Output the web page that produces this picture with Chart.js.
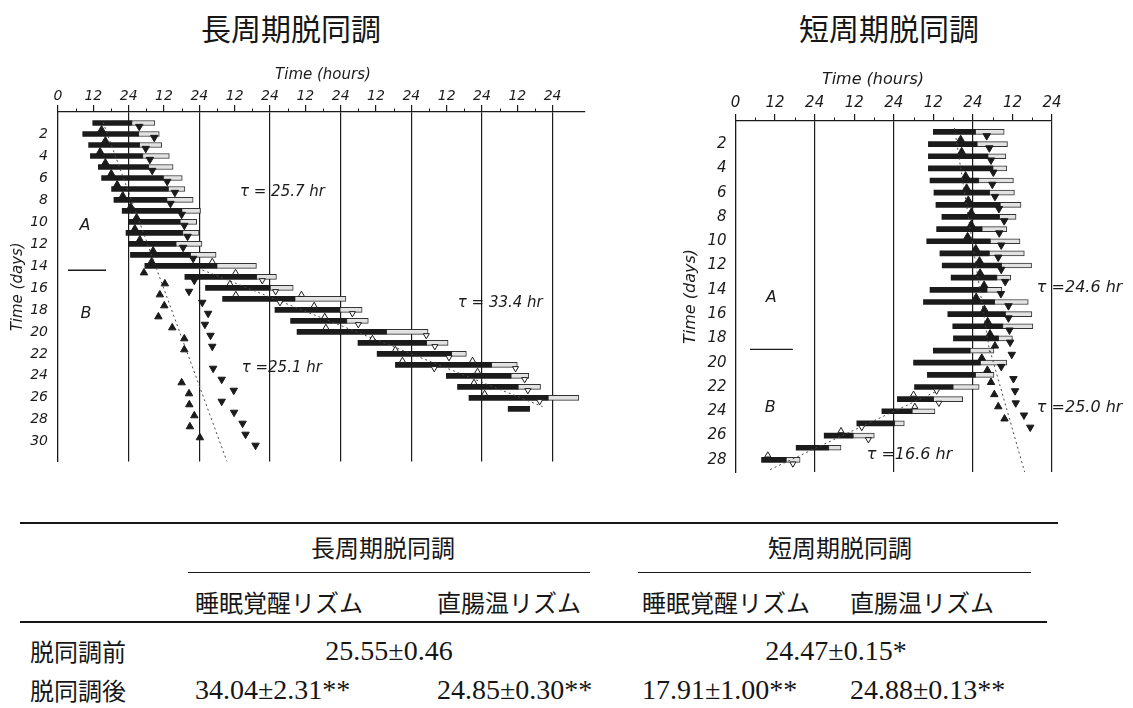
<!DOCTYPE html>
<html lang="ja">
<head>
<meta charset="utf-8">
<title>長周期脱同調・短周期脱同調</title>
<script src="https://cdn.jsdelivr.net/npm/chart.js@4.4.1/dist/chart.umd.min.js"></script>
<style>
  html, body { margin: 0; padding: 0; background: #fff; }
  body { position: relative; width: 1133px; height: 708px; overflow: hidden; color: #161616;
         font-family: "Noto Sans CJK JP", sans-serif; }
  .abs { position: absolute; white-space: nowrap; line-height: 1; }
  .panel-title { font-size: 30px; transform: translate(-50%, -50%); }
  canvas { position: absolute; }
  .rule { position: absolute; background: #161616; }
  .ja { font-size: 24px; transform: translateY(-50%); }
  .ja.mid { transform: translate(-50%, -50%); }
  .num { font-family: "Liberation Serif", serif; font-size: 28px; transform: translateY(-50%); }
  .num.mid { transform: translate(-50%, -50%); }
</style>
</head>
<body>

<div class="abs panel-title" style="left:291px;top:27px">長周期脱同調</div>
<div class="abs panel-title" style="left:889px;top:27px">短周期脱同調</div>

<canvas id="longChart" width="600" height="425" style="left:0;top:55px;width:600px;height:425px"></canvas>
<canvas id="shortChart" width="453" height="430" style="left:680px;top:60px;width:453px;height:430px"></canvas>

<!-- summary table of free-running periods (hours) -->
<div class="rule" style="left:20px;top:522px;width:1038px;height:2px"></div>
<div class="abs ja mid" style="left:383px;top:547px">長周期脱同調</div>
<div class="abs ja mid" style="left:840px;top:547px">短周期脱同調</div>
<div class="rule" style="left:188px;top:572px;width:402px;height:1px"></div>
<div class="rule" style="left:638px;top:572px;width:393px;height:1px"></div>
<div class="abs ja" style="left:195px;top:602px">睡眠覚醒リズム</div>
<div class="abs ja" style="left:437px;top:602px">直腸温リズム</div>
<div class="abs ja" style="left:642px;top:602px">睡眠覚醒リズム</div>
<div class="abs ja" style="left:850px;top:602px">直腸温リズム</div>
<div class="rule" style="left:20px;top:621px;width:1027px;height:1.5px"></div>
<div class="abs ja" style="left:30px;top:651px">脱同調前</div>
<div class="abs num mid" style="left:389px;top:651px">25.55±0.46</div>
<div class="abs num mid" style="left:836px;top:651px">24.47±0.15*</div>
<div class="abs ja" style="left:30px;top:690px">脱同調後</div>
<div class="abs num" style="left:195px;top:690px">34.04±2.31**</div>
<div class="abs num" style="left:437px;top:690px">24.85±0.30**</div>
<div class="abs num" style="left:642px;top:690px">17.91±1.00**</div>
<div class="abs num" style="left:850px;top:690px">24.88±0.13**</div>

<script>
// ---------- long-period desynchronization (left raster) ----------
// per day: activity (black bar) from wakeStart to wakeEnd, rest (open bar) until sleepEnd
const longDays       = [1, 2, 3, 4, 5, 6, 7, 8, 9, 10, 11, 12, 13, 14, 15, 16, 17, 18, 19, 20, 21, 22, 23, 24, 25, 26, 27];
const longWakeStart  = [11.8, 8.4, 10.4, 11.0, 13.7, 14.8, 18.2, 19.0, 21.8, 23.9, 23.1, 23.9, 24.6, 29.5, 43.1, 50.1, 55.9, 73.7, 79.0, 81.2, 101.9, 108.4, 114.6, 131.9, 135.7, 139.6, 152.9];
const longWakeEnd    = [25.0, 27.3, 27.6, 28.7, 30.7, 35.7, 37.4, 36.9, 42.0, 41.4, 42.3, 40.0, 44.9, 53.9, 67.4, 72.0, 80.4, 95.7, 98.0, 111.5, 125.1, 133.6, 147.2, 153.8, 156.2, 166.4, 160.2];
const longSleepEnd   = [32.9, 34.4, 35.2, 37.8, 39.1, 42.2, 43.1, 45.9, 48.4, 47.1, 47.9, 48.9, 53.7, 67.4, 74.2, 79.9, 97.8, 103.3, 105.4, 125.7, 132.5, 138.7, 156.0, 159.9, 163.9, 176.9, null];
// rectal temperature maxima (▲) and minima (▼) as [day, hour]
const longTempMax    = [[2, 14.8], [3, 16.1], [4, 14.3], [5, 16.1], [6, 18.1], [7, 20.1], [8, 22.0], [9, 24.7], [10, 26.7], [11, 26.1], [12, 27.8], [13, 32.3], [14, 31.8], [15, 29.2], [16, 36.3], [17, 34.6], [18, 36.1], [19, 34.1], [20, 38.8], [21, 42.9], [22, 42.9], [25, 42.0], [26, 44.5], [27, 44.6], [28, 46.3], [29, 44.8], [30, 48.2]];
const longTempMin    = [[1, 27.6], [2, 32.7], [3, 29.8], [4, 31.2], [5, 32.0], [6, 37.1], [7, 39.7], [8, 38.2], [9, 42.0], [10, 42.9], [11, 44.0], [12, 42.5], [13, 45.9], [15, 46.3], [16, 44.5], [17, 49.0], [18, 51.0], [19, 49.9], [20, 51.8], [21, 52.4], [23, 52.7], [24, 55.6], [25, 59.7], [26, 55.6], [27, 59.8], [28, 62.7], [29, 63.7], [30, 67.1]];
// open symbols marked on the sleep–wake bars after desynchronization
const longBarMax     = [[14, 52.4], [15, 60.3], [16, 58.4], [17, 60.4], [17, 82.7], [18, 87.0], [19, 90.6], [20, 91.0], [21, 106.8], [22, 114.6], [23, 117.0], [23, 140.8], [24, 142.5], [25, 141.3], [26, 144.9]];
const longBarMin     = [[15, 69.4], [16, 73.9], [17, 75.4], [18, 100.0], [19, 102.0], [20, 125.1], [21, 128.0], [22, 132.8], [23, 127.8], [23, 155.4], [24, 158.5], [25, 159.6], [26, 163.6]];
// fitted period lines as [day, hour] end points
const longTrendTemp  = [[0.93, 15.3], [31.8, 57.4]];
const longTrendSleep = [[14.2, 47.5], [26.8, 164.6]];
const longHourLabels = ['0', '12', '24', '12', '24', '12', '24', '12', '24', '12', '24', '12', '24', '12', '24'];
const longDayLabels  = [2, 4, 6, 8, 10, 12, 14, 16, 18, 20, 22, 24, 26, 28, 30];

// ---------- short-period desynchronization (right raster) ----------
const shortDays      = [1, 2, 3, 4, 5, 6, 7, 8, 9, 10, 11, 12, 13, 14, 15, 16, 17, 18, 19, 20, 21, 22, 23, 24, 25, 26, 27, 28];
const shortWakeStart = [60.0, 58.5, 58.5, 58.5, 59.0, 60.2, 60.8, 62.6, 61.0, 58.0, 62.0, 62.7, 65.4, 59.0, 57.0, 64.4, 65.9, 66.1, 60.0, 54.0, 58.2, 54.3, 49.1, 44.4, 36.8, 26.9, 18.4, 7.9];
const shortWakeEnd   = [72.7, 73.2, 76.5, 78.0, 73.7, 77.0, 80.2, 80.0, 74.7, 77.2, 76.9, 80.6, 79.2, 76.2, 78.5, 81.8, 81.0, 79.7, 71.1, 74.2, 72.7, 65.9, 60.0, 53.5, 48.2, 35.6, 28.2, 15.3];
const shortSleepEnd  = [81.5, 82.5, 82.0, 82.3, 84.3, 84.6, 86.6, 85.1, 82.3, 86.3, 87.6, 89.8, 83.5, 80.8, 88.8, 89.9, 90.2, 84.0, 78.4, 82.3, 78.4, 73.9, 68.9, 60.5, 51.2, 42.1, 32.0, 19.6];
const shortTempMax   = [[2, 68.3], [3, 68.6], [5, 69.8], [6, 70.1], [7, 70.6], [8, 71.5], [9, 71.5], [10, 70.4], [11, 72.9], [12, 74.0], [13, 74.2], [14, 75.4], [15, 73.0], [16, 75.5], [17, 76.5], [18, 77.2], [19, 78.7], [20, 74.7], [21, 76.4], [22, 77.5], [23, 78.5], [24, 79.7], [25, 81.6]];
const shortTempMin   = [[1, 76.2], [2, 77.0], [3, 77.5], [4, 78.2], [5, 77.9], [6, 78.7], [7, 79.9], [8, 81.5], [9, 80.0], [10, 80.6], [11, 79.7], [12, 80.6], [13, 81.8], [14, 80.5], [15, 82.8], [16, 82.8], [17, 83.1], [18, 83.3], [19, 83.8], [20, 80.6], [21, 84.3], [22, 84.8], [23, 85.0], [24, 87.5], [25, 89.4]];
const shortBarMax    = [[23, 54.0], [24, 54.4], [26, 32.0], [28, 9.8]];
const shortBarMin    = [[22, 61.0], [23, 61.7], [25, 38.3], [26, 40.3], [28, 17.4]];
const shortTrendPre  = [[0.68, 66.4], [19.3, 77.2]];
const shortTrendTemp = [[19.0, 77.2], [29.1, 87.8]];
const shortTrendSleep = [[28.8, 10.5], [22.3, 61.4]];
const shortHourLabels = ['0', '12', '24', '12', '24', '12', '24', '12', '24'];
const shortDayLabels  = [2, 4, 6, 8, 10, 12, 14, 16, 18, 20, 22, 24, 26, 28];

// ---------- drawing ----------
const INK = '#1b1b1b';
const CLEAR = 'rgba(0,0,0,0)';
const UP = -0.38;   // ▲ sits on top of the day's bar
const DOWN = 0.32;  // ▼ hangs below it

const toPoints = (pairs, dy) => pairs.map(([d, h]) => ({ x: h, y: d + dy }));
const toBars = (days, from, to) => days
  .map((d, i) => (to[i] == null ? null : { y: d, x: [from[i], to[i]] }))
  .filter(Boolean);

// free-text notes, separator rules and 6-hour minor ticks
const notesPlugin = {
  id: 'notes',
  afterDraw(chart, args, opts) {
    const { ctx, chartArea } = chart;
    const xs = chart.scales.x, ys = chart.scales.y;
    ctx.save();
    ctx.fillStyle = INK;
    ctx.strokeStyle = INK;
    ctx.lineWidth = 1;
    xs.ticks.forEach(t => {
      if (t.value % 12 !== 0) {
        const px = Math.round(xs.getPixelForValue(t.value)) + 0.5;
        ctx.beginPath();
        ctx.moveTo(px, chartArea.top);
        ctx.lineTo(px, chartArea.top - opts.minorTick);
        ctx.stroke();
      }
    });
    (opts.texts || []).forEach(t => {
      ctx.font = t.font;
      ctx.textAlign = t.align || 'left';
      ctx.textBaseline = 'middle';
      const px = xs.getPixelForValue(t.h);
      const py = t.d != null ? ys.getPixelForValue(t.d) : chartArea.top + t.dy;
      ctx.fillText(t.text, px, py);
    });
    ctx.lineWidth = 1.4;
    (opts.rules || []).forEach(r => {
      const py = ys.getPixelForValue(r.d);
      ctx.beginPath();
      ctx.moveTo(xs.getPixelForValue(r.h1), py);
      ctx.lineTo(xs.getPixelForValue(r.h2), py);
      ctx.stroke();
    });
    ctx.restore();
  }
};

function raster(canvasId, p) {
  const tickFont = { family: 'DejaVu Sans', style: 'italic', size: p.fontSize };
  const marker = (pairs, dy, filled, rot, r) => ({
    type: 'scatter', data: toPoints(pairs, dy), pointStyle: 'triangle', pointRotation: rot,
    pointRadius: r, pointBackgroundColor: filled ? INK : '#fff', pointBorderColor: INK,
    pointBorderWidth: 1, clip: false
  });
  const trend = pairs => ({
    type: 'line', data: pairs.map(([d, h]) => ({ x: h, y: d })), borderColor: '#4a4a4a',
    borderWidth: 1, borderDash: [2, 3], pointRadius: 0, fill: false, tension: 0
  });
  const datasets = [
    marker(p.tempMax, UP, true, 0, p.tri),
    marker(p.tempMin, DOWN, true, 180, p.tri),
    marker(p.barMax, UP, false, 0, p.tri - 0.8),
    marker(p.barMin, DOWN, false, 180, p.tri - 0.8),
    ...p.trends.map(trend),
    { type: 'bar', indexAxis: 'y', grouped: false, barThickness: 5, borderWidth: 0,
      backgroundColor: INK, data: toBars(p.days, p.wakeStart, p.wakeEnd) },
    { type: 'bar', indexAxis: 'y', grouped: false, barThickness: 5, borderWidth: 1, borderSkipped: false,
      backgroundColor: '#e2e2e2', borderColor: '#333', data: toBars(p.days, p.wakeEnd, p.sleepEnd) }
  ];
  const lastHour = (p.hourLabels.length - 1) * 12;
  return new Chart(document.getElementById(canvasId), {
    type: 'scatter',
    data: { datasets },
    options: {
      responsive: false, animation: false, devicePixelRatio: 1, events: [],
      layout: { padding: p.padding },
      plugins: { legend: { display: false }, tooltip: { enabled: false }, notes: p.notes },
      scales: {
        x: {
          type: 'linear', position: 'top', min: 0, max: p.xMax, offset: false,
          afterBuildTicks: s => { s.ticks = []; for (let v = 0; v <= lastHour; v += 6) s.ticks.push({ value: v }); },
          afterFit: s => { s.height = p.xAxisHeight; },
          ticks: { font: tickFont, color: INK, padding: p.xPad, maxRotation: 0, autoSkip: false,
                   callback: v => (v % 12 === 0 ? p.hourLabels[v / 12] : '') },
          grid: { drawOnChartArea: true, drawTicks: true, tickLength: 7, lineWidth: 1.2,
                  color: c => (c.tick && c.tick.value > 0 && c.tick.value % 24 === 0 ? INK : CLEAR),
                  tickColor: c => (c.tick && c.tick.value % 12 === 0 ? INK : CLEAR) },
          border: { display: true, color: INK, width: 1.3 }
        },
        y: {
          type: 'linear', reverse: true, min: p.yMin, max: p.yMax, offset: false,
          afterBuildTicks: s => { s.ticks = p.dayLabels.map(v => ({ value: v })); },
          afterFit: s => { s.width = p.yAxisWidth; },
          ticks: { font: tickFont, color: INK, padding: p.yPad, callback: v => String(v) },
          grid: { display: false, drawTicks: false },
          border: { display: true, color: INK, width: 1.3 },
          title: { display: true, text: 'Time (days)', color: INK,
                   font: { family: 'DejaVu Sans', style: 'italic', size: p.fontSize + 1 },
                   padding: { top: p.titlePad, bottom: 0 } }
        }
      }
    },
    plugins: [notesPlugin]
  });
}

const noteFont = s => `italic ${s}px "DejaVu Sans"`;

raster('longChart', {
  days: longDays, wakeStart: longWakeStart, wakeEnd: longWakeEnd, sleepEnd: longSleepEnd,
  tempMax: longTempMax, tempMin: longTempMin, barMax: longBarMax, barMin: longBarMin,
  trends: [longTrendTemp, longTrendSleep],
  hourLabels: longHourLabels, dayLabels: longDayLabels,
  xMax: 179, yMin: 0, yMax: 31.8, fontSize: 14, tri: 4.3,
  xAxisHeight: 57, yAxisWidth: 58, xPad: 0, yPad: 10, titlePad: 9,
  padding: { left: 0, top: 0, right: 15, bottom: 10 },
  notes: {
    minorTick: 3.5,
    texts: [
      { text: 'Time (hours)', h: 90, dy: -37, align: 'center', font: noteFont(15) },
      { text: 'τ = 25.7 hr', h: 61.8, d: 7.33, font: noteFont(15) },
      { text: 'τ = 33.4 hr', h: 135.8, d: 17.4, font: noteFont(15) },
      { text: 'τ =25.1 hr', h: 62.4, d: 23.3, font: noteFont(15) },
      { text: 'A', h: 9.2, d: 10.4, align: 'center', font: noteFont(16) },
      { text: 'B', h: 9.5, d: 18.4, align: 'center', font: noteFont(16) }
    ],
    rules: [{ h1: 3.4, h2: 16.3, d: 14.4 }]
  }
});

raster('shortChart', {
  days: shortDays, wakeStart: shortWakeStart, wakeEnd: shortWakeEnd, sleepEnd: shortSleepEnd,
  tempMax: shortTempMax, tempMin: shortTempMin, barMax: shortBarMax, barMin: shortBarMin,
  trends: [shortTrendPre, shortTrendTemp, shortTrendSleep],
  hourLabels: shortHourLabels, dayLabels: shortDayLabels,
  xMax: 96, yMin: 0.1, yMax: 29, fontSize: 15, tri: 4.3,
  xAxisHeight: 61, yAxisWidth: 55.5, xPad: 2, yPad: 9, titlePad: 1,
  padding: { left: 0, top: 0, right: 81, bottom: 9 },
  notes: {
    minorTick: 3.5,
    texts: [
      { text: 'Time (hours)', h: 41.7, dy: -41, align: 'center', font: noteFont(16) },
      { text: 'τ =24.6 hr', h: 91.4, d: 13.8, font: noteFont(16) },
      { text: 'τ =25.0 hr', h: 91.4, d: 23.7, font: noteFont(16) },
      { text: 'τ =16.6 hr', h: 39.8, d: 27.6, font: noteFont(16) },
      { text: 'A', h: 10.8, d: 14.7, align: 'center', font: noteFont(16) },
      { text: 'B', h: 10.5, d: 23.7, align: 'center', font: noteFont(16) }
    ],
    rules: [{ h1: 4.4, h2: 17.4, d: 18.9 }]
  }
});
</script>
</body>
</html>
